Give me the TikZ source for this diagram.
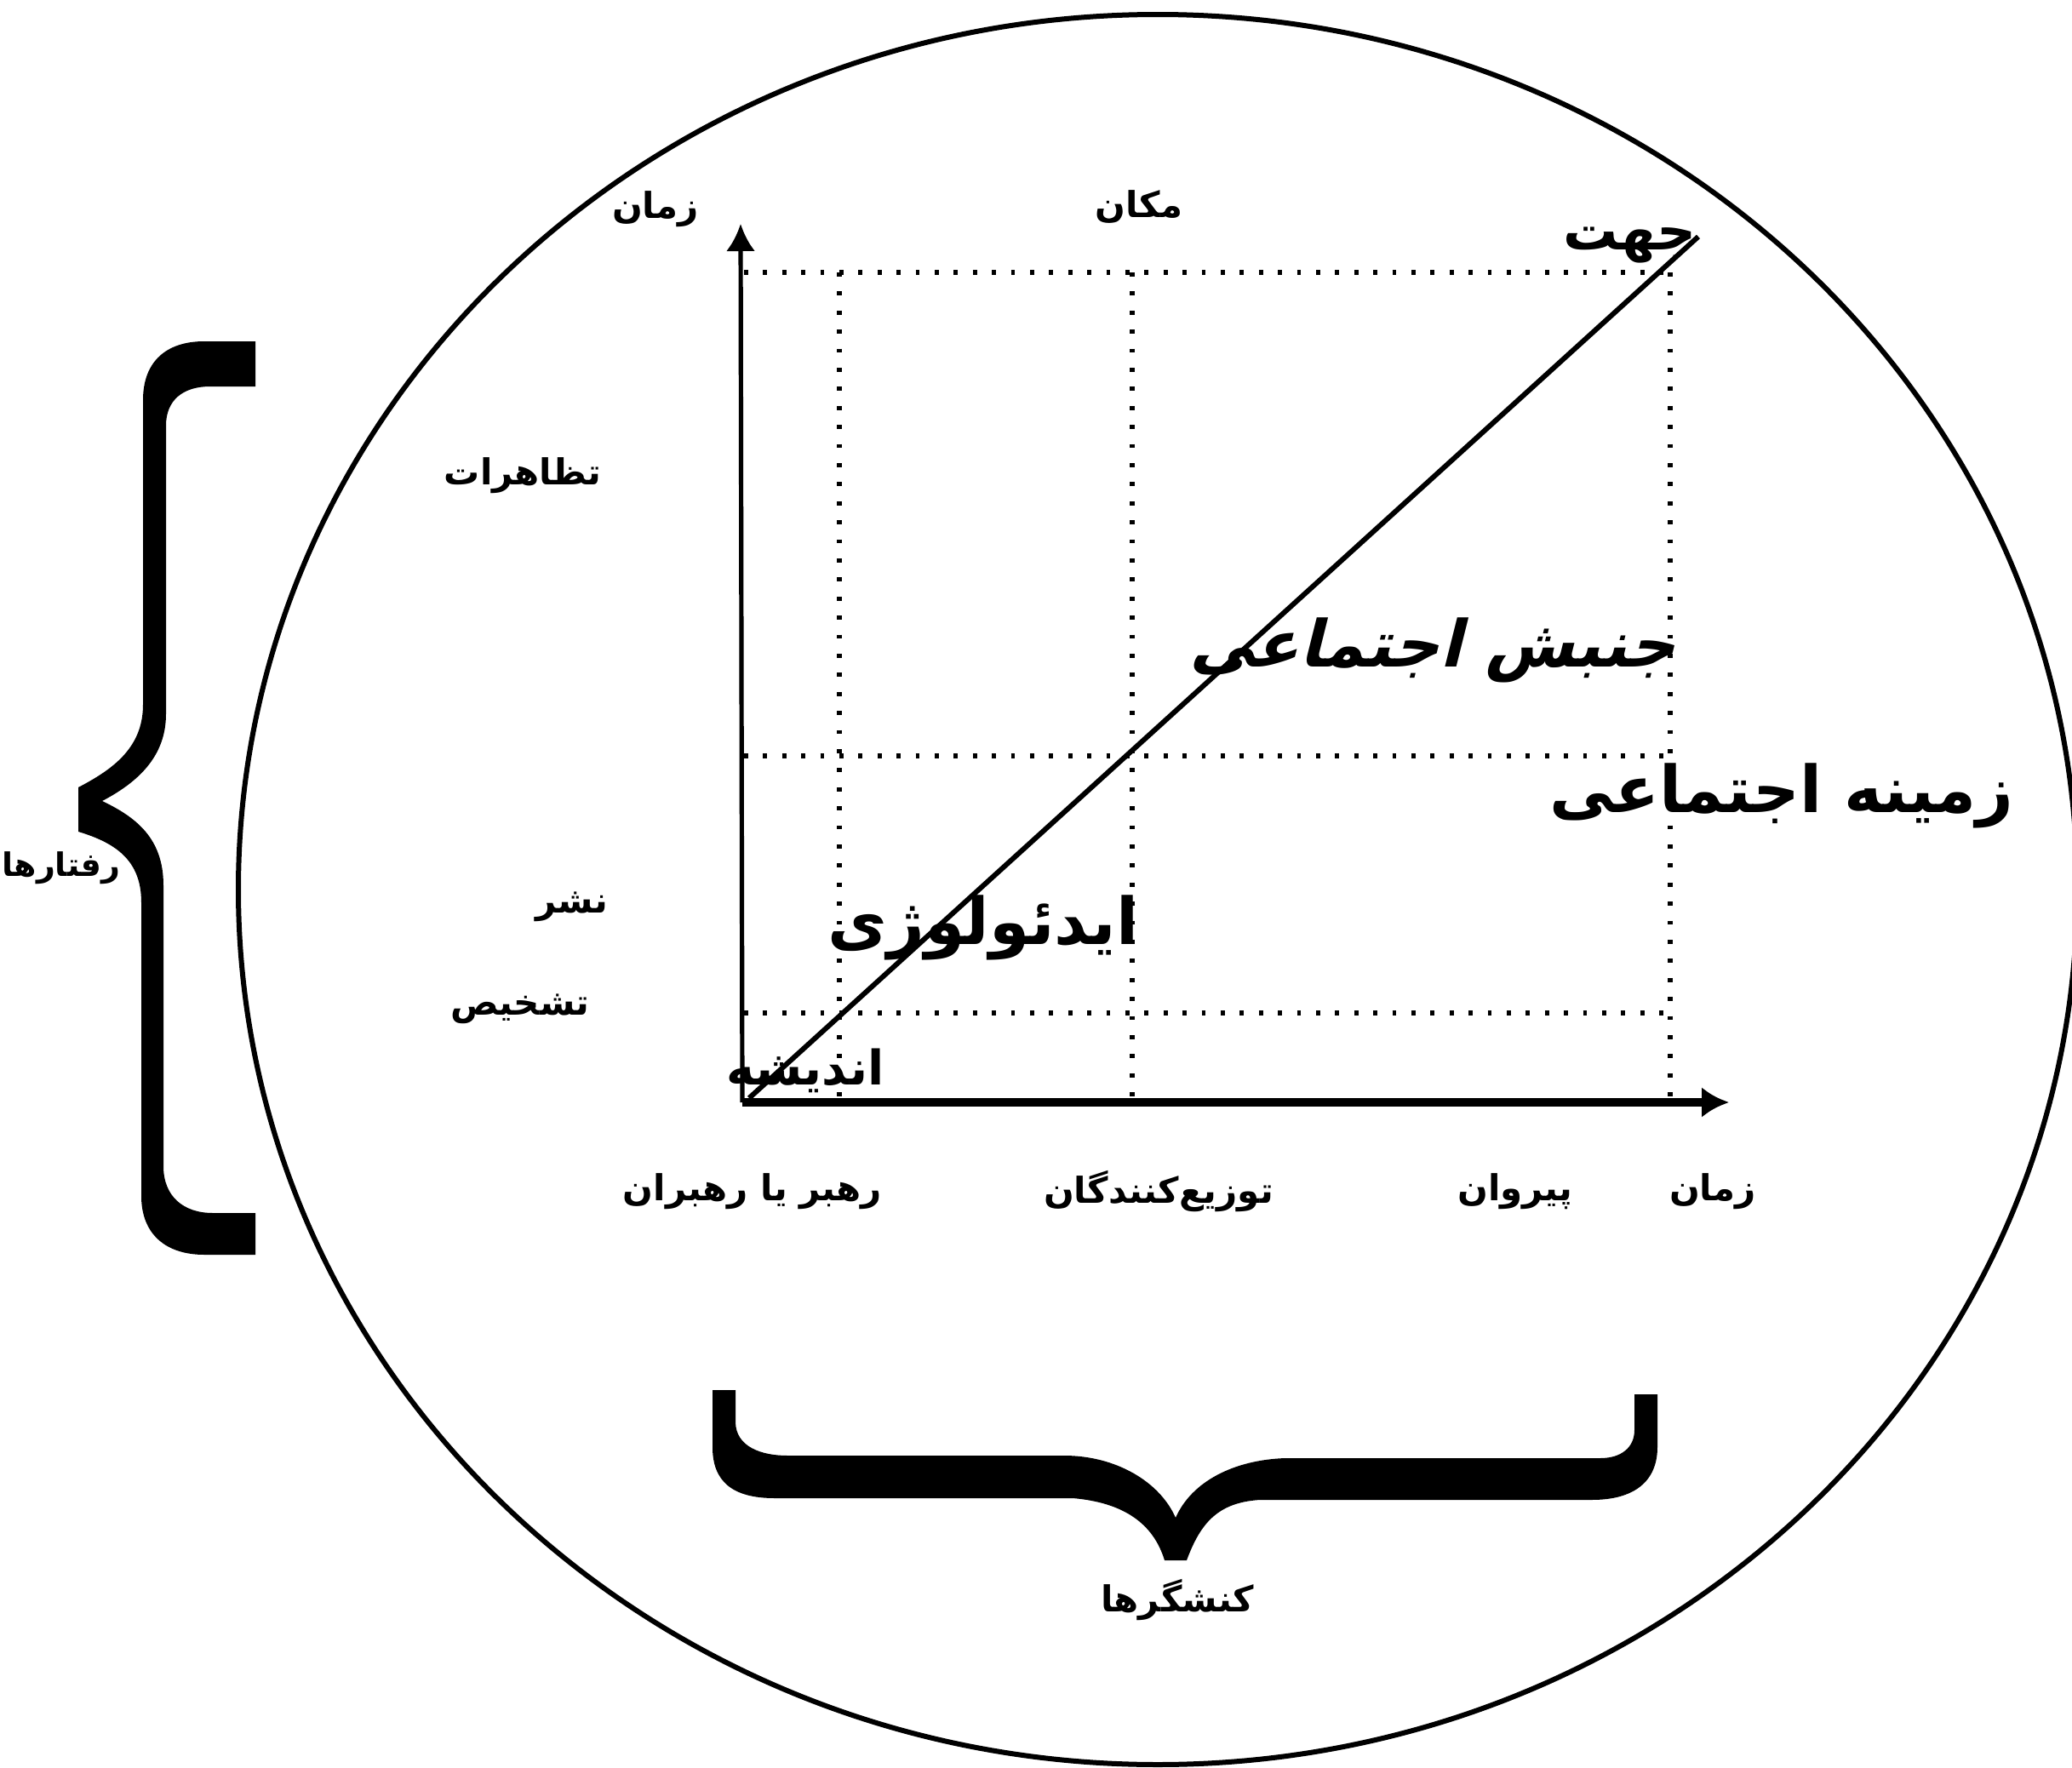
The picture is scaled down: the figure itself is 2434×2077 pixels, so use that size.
\documentclass[tikz,border=0pt]{standalone}
\usepackage{fontspec}
\usetikzlibrary{arrows.meta}
\newfontfamily\persianfont[Script=Arabic]{DejaVu Sans}
\newfontfamily\persianslant[Script=Arabic,FakeSlant=0.25]{DejaVu Sans}
\TeXXeTstate=1
\newcommand{\fa}[1]{\persianfont\bfseries\beginR #1\endR}
\newcommand{\faslant}[1]{\persianslant\bfseries\beginR #1\endR}

\begin{document}
\begin{tikzpicture}[x=0.25pt, y=-0.25pt,
  every node/.style={inner sep=0pt, outer sep=0pt},
  lbl/.style={font=\fontsize{10.5}{12}\selectfont},
  biglbl/.style={font=\fontsize{19}{22}\selectfont},
  yaxis/.style={line width=1.3pt, -{Latex[length=8pt,width=8.5pt]}},
  xaxis/.style={line width=2.4pt, -{Latex[length=8pt,width=9pt]}},
  dots/.style={line width=1.3pt, dash pattern=on 1.2pt off 4.4pt},
  brace/.style={fill=black, draw=none}]
  \useasboundingbox (0,0) rectangle (2434,2077);

  % outer ring
  \draw[line width=1.5pt] (1360,1045) ellipse [x radius=1080, y radius=1028];

  % axes
  \coordinate (O) at (872,1295);
  \coordinate (ytip) at (870,263);
  \coordinate (xtip) at (2031,1295);
  \draw[yaxis] (O) -- (ytip);
  \draw[xaxis] (O) -- (xtip);

  % dotted grid
  \foreach \gy in {320,888,1190}
    \draw[dots] (874,\gy) -- (1962,\gy);
  \foreach \gx in {986,1330,1962}
    \draw[dots] (\gx,320) -- (\gx,1288);

  % diagonal
  \coordinate (diagA) at (880,1290);
  \coordinate (diagB) at (1995,278);
  \draw[line width=1.5pt] (diagA) -- (diagB);

  % braces
  \fill[brace] (300,401) -- (240,401) .. controls (195,401) and (168,425) .. (168,470)
    -- (168,828) .. controls (168,880) and (130,905) .. (92,925)
    -- (92,977) .. controls (135,990) and (166,1010) .. (166,1060)
    -- (166,1405) .. controls (166,1450) and (195,1474) .. (240,1474)
    -- (300,1474) -- (300,1425) -- (250,1425) .. controls (215,1425) and (192,1405) .. (192,1370)
    -- (192,1040) .. controls (192,985) and (160,960) .. (120,941)
    .. controls (160,920) and (195,890) .. (195,839)
    -- (195,500) .. controls (195,470) and (215,454) .. (247,454)
    -- (300,454) -- cycle;
  \fill[brace] (837,1633) -- (837,1700) .. controls (837,1740) and (860,1760) .. (910,1760)
    -- (1260,1760) .. controls (1320,1765) and (1355,1790) .. (1368,1833)
    -- (1394,1833) .. controls (1410,1790) and (1430,1765) .. (1480,1762)
    -- (1870,1762) .. controls (1920,1762) and (1947,1740) .. (1947,1700)
    -- (1947,1638) -- (1920,1638) -- (1920,1680) .. controls (1920,1700) and (1905,1713) .. (1880,1713)
    -- (1510,1713) .. controls (1450,1715) and (1400,1740) .. (1381,1783)
    .. controls (1362,1740) and (1310,1710) .. (1250,1710)
    -- (925,1710) .. controls (895,1710) and (864,1700) .. (864,1670)
    -- (864,1633) -- cycle;

  % axis labels
  \node[lbl] (ytime) at (770,246) {\fa{زمان}};
  \node[lbl] (place) at (1338,243) {\fa{مکان}};
  \node[biglbl, font=\fontsize{16}{18}\selectfont] (dir) at (1915,288) {\fa{جهت}};
  \node[lbl] (demo) at (614,559) {\fa{تظاهرات}};
  \node[lbl] (spread) at (672,1065) {\fa{نشر}};
  \node[lbl] (diag) at (611,1185) {\fa{تشخیص}};
  \node[lbl, font=\fontsize{9.5}{11}\selectfont] (acts) at (72,1020) {\fa{رفتارها}};
  \node[lbl] (lead) at (884,1400) {\fa{رهبر یا رهبران}};
  \node[lbl] (dist) at (1361,1400) {\fa{توزیع‌کنندگان}};
  \node[lbl] (follow) at (1780,1400) {\fa{پیروان}};
  \node[lbl] (xtime) at (2012,1400) {\fa{زمان}};
  \node[lbl] (actors) at (1383,1880) {\fa{کنشگرها}};

  % stage labels
  \node[biglbl] (movement) at (1683,764) {\faslant{جنبش اجتماعی}};
  \node[biglbl] (context) at (2093,935) {\fa{زمینه اجتماعی}};
  \node[biglbl] (ideology) at (1155,1090) {\fa{ایدئولوژی}};
  \node[biglbl, font=\fontsize{14}{16}\selectfont] (thought) at (946,1258) {\fa{اندیشه}};
\end{tikzpicture}
\end{document}
